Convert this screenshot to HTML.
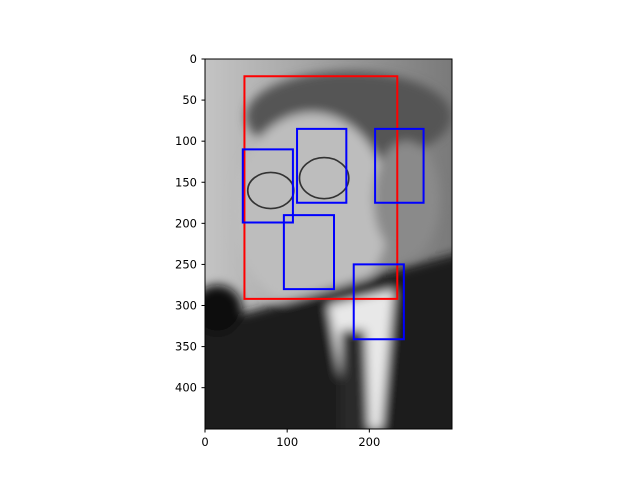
<!DOCTYPE html>
<html><head><meta charset="utf-8"><style>
body{margin:0;background:#fff;width:640px;height:480px;overflow:hidden}
text{font-family:"DejaVu Sans","Liberation Sans",sans-serif;font-size:11.5px;fill:#000}
</style></head><body>
<svg id="chart" width="640" height="480" viewBox="0 0 640 480">
<defs>
<filter id="bl" x="-20%" y="-20%" width="140%" height="140%"><feGaussianBlur stdDeviation="6"/></filter>
<clipPath id="cp"><rect x="0" y="0" width="300" height="450"/></clipPath>
<linearGradient id="bg" x1="0" y1="0" x2="1" y2="0"><stop offset="0" stop-color="#c4c4c4"/><stop offset="1" stop-color="#7a7a7a"/></linearGradient>
</defs>
<g id="plot" transform="translate(205,59) scale(0.8217)">
<g clip-path="url(#cp)">
<rect width="300" height="450" fill="url(#bg)"/>
<g filter="url(#bl)">
<ellipse cx="175" cy="70" rx="125" ry="55" fill="#555"/>
<ellipse cx="130" cy="185" rx="95" ry="120" fill="#bdbdbd"/>
<ellipse cx="245" cy="170" rx="40" ry="70" fill="#8a8a8a"/>
<path d="M-30 330 L120 290 L220 260 L330 230 L330 480 L-30 480 Z" fill="#1e1e1e"/>
<path d="M150 300 L230 280 L215 450 L175 450 Z" fill="#e8e8e8"/>
<path d="M165 330 L195 330 L200 470 L165 470 Z" fill="#2a2a2a"/>
<ellipse cx="15" cy="305" rx="30" ry="30" fill="#111"/>
</g>
<ellipse cx="80" cy="160" rx="28" ry="22" fill="none" stroke="#333" stroke-width="2"/>
<ellipse cx="145" cy="145" rx="30" ry="25" fill="none" stroke="#333" stroke-width="2"/>
</g>
<g id="boxes"></g>
</g>
<rect x="205" y="59" width="247" height="370" fill="none" stroke="#000" stroke-width="1"/>
<g id="ticks"></g>
</svg>
<script>
const redBox=[48,21,234,292];
const blueBoxes=[[46,110,107,199],[112,85,172,175],[207,85,266,175],[96,190,157,280],[181,250,242,341]];
const xTicks=[0,100,200];
const yTicks=[0,50,100,150,200,250,300,350,400];
const S=0.8217,X0=205,Y0=59;
const NS="http://www.w3.org/2000/svg";
const bx=document.getElementById('boxes');
function box(b,c,n){const r=document.createElementNS(NS,'rect');
r.setAttribute('x',b[0]);r.setAttribute('y',b[1]);r.setAttribute('width',b[2]-b[0]);r.setAttribute('height',b[3]-b[1]);
r.setAttribute('fill','none');r.setAttribute('stroke',c);r.setAttribute('stroke-width',2);r.setAttribute('vector-effect','non-scaling-stroke');


bx.appendChild(r);}
box(redBox,'#ff0000','red-face-box');
blueBoxes.forEach((b,i)=>box(b,'#0000ff','blue-box-'+(i+1)));
const tg=document.getElementById('ticks');
xTicks.forEach(v=>{const x=X0+v*S;
const l=document.createElementNS(NS,'line');l.setAttribute('x1',x);l.setAttribute('x2',x);l.setAttribute('y1',429);l.setAttribute('y2',432.5);l.setAttribute('stroke','#000');


tg.appendChild(l);
const t=document.createElementNS(NS,'text');t.setAttribute('x',x);t.setAttribute('y',446);t.setAttribute('text-anchor','middle');t.textContent=v;


tg.appendChild(t);});
yTicks.forEach(v=>{const y=Y0+v*S;
const l=document.createElementNS(NS,'line');l.setAttribute('x1',201.5);l.setAttribute('x2',205);l.setAttribute('y1',y);l.setAttribute('y2',y);l.setAttribute('stroke','#000');


tg.appendChild(l);
const t=document.createElementNS(NS,'text');t.setAttribute('x',197);t.setAttribute('y',y+4);t.setAttribute('text-anchor','end');t.textContent=v;


tg.appendChild(t);});
</script>
</body></html>
